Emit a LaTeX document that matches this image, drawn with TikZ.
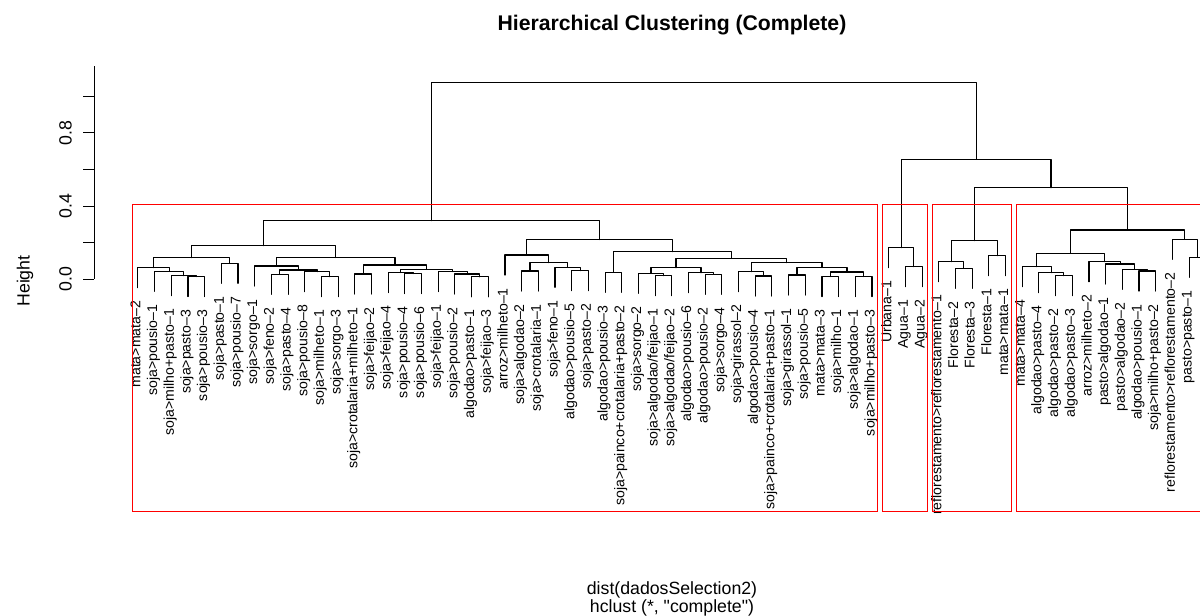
\documentclass[tikz,border=0pt]{standalone}
\usepackage{fontspec}
\setmainfont{Liberation Sans}
\usetikzlibrary{calc}
\newcommand{\hclabfont}{\fontsize{14.1}{16}\selectfont}
\newcommand{\hcbasefont}{\fontsize{17.7}{20}\selectfont}
\newcommand{\hctitlefont}{\fontsize{21.2}{24}\selectfont\bfseries}
\newcommand{\hcdq}{\XeTeXglyph\XeTeXcharglyph"22\relax}
\newcommand{\leafnode}[3]{%
  \coordinate (L#1) at ({137.9+(#1-1)*16.685},{#2+20});
  \node[leaflab] (T#1) at ($(L#1)+(0,13)$) {#3};
}
\newcommand{\leafbare}[2]{%
  \coordinate (L#1) at ({137.9+(#1-1)*16.685},{#2+20});
}
\newcommand{\mrg}[4]{%
  \path ($(#2)!0.5!(#3)$) coordinate (#1c);
  \coordinate (#1) at (#1c |- 0,#4);
  \draw[tree] (#2) |- (#1) -| (#3);
}
\tikzset{
  tree/.style={line width=1.1pt, line cap=round, line join=round, black},
  redbox/.style={line width=1.15pt, draw={rgb,255:red,255;green,0;blue,0}},
  leaflab/.style={rotate=90, anchor=east, inner sep=0pt, font=\hclabfont, text height=0.72em, text depth=0.21em},
  axlab/.style={rotate=90, anchor=base, inner sep=0pt, font=\hcbasefont},
}
\begin{document}
\begin{tikzpicture}[x=1pt,y=-1pt]
\useasboundingbox (0,0) rectangle (1200,616);
\clip (0,0) rectangle (1200,616);
\fill[white] (0,0) rectangle (1200,616);

% title and axis labels
\node[font=\hctitlefont, anchor=base, inner sep=0pt] (title) at (672,30.5) {Hierarchical Clustering (Complete)};
\node[font=\hcbasefont, anchor=base, inner sep=0pt] (xlab) at (672,594.5) {dist(dadosSelection2)};
\node[font=\hcbasefont, anchor=base, inner sep=0pt] (sub) at (672,612) {hclust (*, \hcdq complete\hcdq)};
\node[axlab] (ylab) at (29.5,281) {Height};

% y axis
\draw[line width=1.1pt] (94.3,66.3) -- (94.3,279.3);
\foreach \k in {0,...,5}{\draw[line width=1.1pt] (83,279.3-\k*36.6) -- (94.3,279.3-\k*36.6);}
\node[axlab] (t0) at (71.5,279.3) {0.0};
\node[axlab] (t4) at (71.5,206.1) {0.4};
\node[axlab] (t8) at (71.5,132.9) {0.8};

% leaves
\leafnode{1}{267.7}{mata>mata–2}
\leafnode{2}{271.3}{soja>pousio–1}
\leafnode{3}{275.7}{soja>milho+pasto–1}
\leafnode{4}{276.5}{soja>pasto–3}
\leafnode{5}{276.5}{soja>pousio–3}
\leafnode{6}{263.3}{soja>pasto–1}
\leafnode{7}{263.3}{soja>pousio–7}
\leafnode{8}{266}{soja>sorgo–1}
\leafnode{9}{274.3}{soja>feno–2}
\leafnode{10}{274.3}{soja>pasto–4}
\leafnode{11}{271.7}{soja>pousio–8}
\leafnode{12}{276.7}{soja>milheto–1}
\leafnode{13}{276.7}{soja>sorgo–3}
\leafnode{14}{274}{soja>crotalaria+milheto–1}
\leafnode{15}{274}{soja>feijao–2}
\leafnode{16}{272.5}{soja>feijao–4}
\leafnode{17}{273.5}{soja>pousio–4}
\leafnode{18}{273.5}{soja>pousio–6}
\leafnode{19}{271.5}{soja>feijao–1}
\leafnode{20}{274}{soja>pousio–2}
\leafnode{21}{276.8}{algodao>pasto–1}
\leafnode{22}{276.8}{soja>feijao–3}
\leafnode{23}{255}{arroz>milheto–1}
\leafnode{24}{271}{soja>algodao–2}
\leafnode{25}{271}{soja>crotalaria–1}
\leafnode{26}{267.3}{soja>feno–1}
\leafnode{27}{270.7}{algodao>pousio–5}
\leafnode{28}{270.7}{soja>pasto–2}
\leafnode{29}{272.3}{algodao>pousio–3}
\leafnode{30}{272.3}{soja>painco+crotalaria+pasto–2}
\leafnode{31}{273.3}{soja>sorgo–2}
\leafnode{32}{275.7}{soja>algodao/feijao–1}
\leafnode{33}{275.7}{soja>algodao/feijao–2}
\leafnode{34}{272.7}{algodao>pousio–6}
\leafnode{35}{274.3}{algodao>pousio–2}
\leafnode{36}{274.3}{soja>sorgo–4}
\leafnode{37}{271.7}{soja>girassol–2}
\leafnode{38}{276}{algodao>pousio–4}
\leafnode{39}{276}{soja>painco+crotalaria+pasto–1}
\leafnode{40}{275}{soja>girassol–1}
\leafnode{41}{275}{soja>pousio–5}
\leafnode{42}{276.6}{mata>mata–3}
\leafnode{43}{276.6}{soja>milho–1}
\leafnode{44}{276.6}{soja>algodao–1}
\leafnode{45}{276.6}{soja>milho+pasto–3}
\leafnode{46}{247.7}{Urbana–1}
\leafnode{47}{266.7}{Agua–1}
\leafnode{48}{266.7}{Agua–2}
\leafnode{49}{261.7}{reflorestamento>reflorestamento–1}
\leafnode{50}{268.3}{Floresta–2}
\leafnode{51}{268.3}{Floresta–3}
\leafnode{52}{255.7}{Floresta–1}
\leafnode{53}{255.7}{mata>mata–1}
\leafnode{54}{266.7}{mata>mata–4}
\leafnode{55}{272.7}{algodao>pasto–4}
\leafnode{56}{275.7}{algodao>pasto–2}
\leafnode{57}{275.7}{algodao>pasto–3}
\leafnode{58}{261.7}{arroz>milheto–2}
\leafnode{59}{264}{pasto>algodao–1}
\leafnode{60}{269.3}{pasto>algodao–2}
\leafnode{61}{271}{algodao>pousio–1}
\leafnode{62}{271}{soja>milho+pasto–2}
\leafnode{63}{239.3}{reflorestamento>reflorestamento–2}
\leafnode{64}{257.3}{pasto>pasto–1}
\leafbare{65}{257.3}

% merges
\mrg{m45}{L4}{L5}{276.5}
\mrg{m35}{L3}{m45}{275.7}
\mrg{m25}{L2}{m35}{271.3}
\mrg{m15}{L1}{m25}{267.7}
\mrg{m67}{L6}{L7}{263.3}
\mrg{m17}{m15}{m67}{257.7}
\mrg{m910}{L9}{L10}{274.3}
\mrg{m1213}{L12}{L13}{276.7}
\mrg{m1113}{L11}{m1213}{271.7}
\mrg{m913}{m910}{m1113}{270}
\mrg{m813}{L8}{m913}{266}
\mrg{m1415}{L14}{L15}{274}
\mrg{m1718}{L17}{L18}{273.5}
\mrg{m1618}{L16}{m1718}{272.5}
\mrg{m2122}{L21}{L22}{276.8}
\mrg{m2022}{L20}{m2122}{274}
\mrg{m1922}{L19}{m2022}{271.5}
\mrg{m1622}{m1618}{m1922}{269.2}
\mrg{m1422}{m1415}{m1622}{265}
\mrg{m822}{m813}{m1422}{257.5}
\mrg{m122}{m17}{m822}{245.7}
\mrg{m2425}{L24}{L25}{271}
\mrg{m2728}{L27}{L28}{270.7}
\mrg{m2628}{L26}{m2728}{267.3}
\mrg{m2428}{m2425}{m2628}{262.7}
\mrg{m2328}{L23}{m2428}{255}
\mrg{m2930}{L29}{L30}{272.3}
\mrg{m3233}{L32}{L33}{275.7}
\mrg{m3133}{L31}{m3233}{273.3}
\mrg{m3536}{L35}{L36}{274.3}
\mrg{m3436}{L34}{m3536}{272.7}
\mrg{m3136}{m3133}{m3436}{267.7}
\mrg{m3839}{L38}{L39}{276}
\mrg{m3739}{L37}{m3839}{271.7}
\mrg{m4041}{L40}{L41}{275}
\mrg{m4243}{L42}{L43}{276.6}
\mrg{m4445}{L44}{L45}{276.6}
\mrg{m4245}{m4243}{m4445}{272}
\mrg{m4045}{m4041}{m4245}{267.5}
\mrg{m3745}{m3739}{m4045}{262.7}
\mrg{m3145}{m3136}{m3745}{258.3}
\mrg{m2945}{m2930}{m3145}{251.7}
\mrg{m2345}{m2328}{m2945}{239.5}
\mrg{m145}{m122}{m2345}{220.7}
\mrg{m4748}{L47}{L48}{266.7}
\mrg{m4648}{L46}{m4748}{247.7}
\mrg{m5051}{L50}{L51}{268.3}
\mrg{m4951}{L49}{m5051}{261.7}
\mrg{m5253}{L52}{L53}{255.7}
\mrg{m4953}{m4951}{m5253}{240.7}
\mrg{m5657}{L56}{L57}{275.7}
\mrg{m5557}{L55}{m5657}{272.7}
\mrg{m5457}{L54}{m5557}{266.7}
\mrg{m6162}{L61}{L62}{271}
\mrg{m6062}{L60}{m6162}{269.3}
\mrg{m5962}{L59}{m6062}{264}
\mrg{m5862}{L58}{m5962}{261.7}
\mrg{m5462}{m5457}{m5862}{253.3}
\mrg{m6465}{L64}{L65}{257.3}
\mrg{m6365}{L63}{m6465}{239.3}
\mrg{m5465}{m5462}{m6365}{230}
\mrg{m4965}{m4953}{m5465}{187.7}
\mrg{m4665}{m4648}{m4965}{159.3}
\mrg{root}{m145}{m4665}{82.7}

% cluster rectangles
\draw[redbox] (132.2,204.5) rectangle (877.6,511.7);
\draw[redbox] (882.8,204.5) rectangle (927.6,511.7);
\draw[redbox] (932.8,204.5) rectangle (1011.1,511.7);
\draw[redbox] (1016.1,204.5) rectangle (1230,511.7);
\end{tikzpicture}
\end{document}
